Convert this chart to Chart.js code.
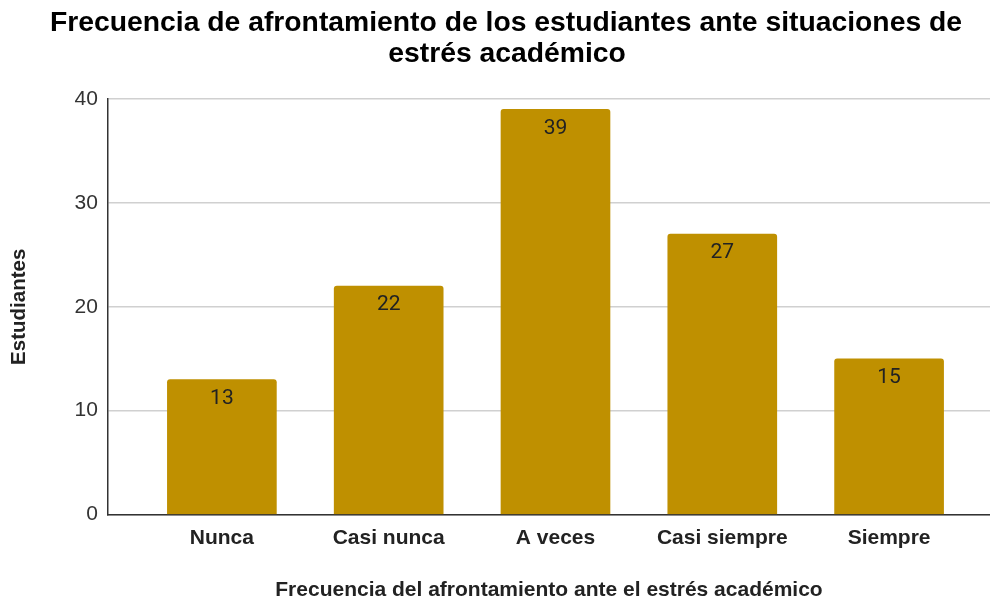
<!DOCTYPE html>
<html lang="es">
<head>
  <meta charset="UTF-8" />
  <title>Frecuencia de afrontamiento</title>
  <script src="https://cdn.jsdelivr.net/npm/chart.js"></script>
  <style>
    html, body { margin: 0; padding: 0; background: #fff; }
    #wrap { width: 990px; height: 598px; }
  </style>
</head>
<body>
  <div id="wrap"><canvas id="grafico" width="990" height="598"></canvas></div>
  <script>
    const categorias = ['Nunca', 'Casi nunca', 'A veces', 'Casi siempre', 'Siempre'];
    const estudiantes = [13, 22, 39, 27, 15];
    const ticksY = [0, 10, 20, 30, 40];
    const titulo = ['Frecuencia de afrontamiento de los estudiantes ante situaciones de', 'estrés académico'];

    const fuente = "'Liberation Sans', Arial, sans-serif";

    // título dibujado a mano (centrado un poco a la derecha, como el original)
    const tituloPlugin = {
      id: 'tituloPlugin',
      beforeDraw(chart) {
        const ctx = chart.ctx;
        ctx.save();
        ctx.font = 'bold 28.3px ' + fuente;
        ctx.fillStyle = '#000';
        ctx.textAlign = 'center';
        ctx.textBaseline = 'middle';
        ctx.fillText(titulo[0], 506, 23);
        ctx.fillText(titulo[1], 507, 54);
        ctx.restore();
      }
    };

    // etiquetas de valor dentro de cada barra
    const etiquetas = {
      id: 'etiquetas',
      afterDatasetsDraw(chart) {
        const ctx = chart.ctx;
        const meta = chart.getDatasetMeta(0);
        ctx.save();
        ctx.font = '21px ' + "Roboto, 'Liberation Sans', sans-serif";
        ctx.fillStyle = '#222';
        ctx.textAlign = 'center';
        ctx.textBaseline = 'middle';
        meta.data.forEach((bar, i) => {
          ctx.fillText(String(estudiantes[i]), bar.x, bar.y + 19);
        });
        ctx.restore();
      }
    };

    new Chart(document.getElementById('grafico'), {
      type: 'bar',
      data: {
        datasets: [{
          data: estudiantes.map((v, i) => ({ x: i, y: v })),
          backgroundColor: '#BF9000',
          barThickness: 109,
          borderRadius: { topLeft: 3, topRight: 3 },
          borderSkipped: 'bottom'
        }]
      },
      options: {
        responsive: false,
        animation: false,
        layout: { padding: { left: 7, right: 0, top: 99, bottom: -5 } },
        plugins: {
          legend: { display: false },
          tooltip: { enabled: false },
          title: { display: false }
        },
        scales: {
          x: {
            type: 'linear',
            offset: false,
            min: -0.683,
            max: 4.605,
            afterBuildTicks(axis) {
              axis.ticks = categorias.map((c, i) => ({ value: i }));
            },
            ticks: {
              autoSkip: false,
              maxRotation: 0,
              padding: 3,
              color: '#222',
              font: { family: fuente, size: 21, weight: 'bold' },
              callback: (v) => categorias[v] ?? ''
            },
            grid: { display: false },
            border: { color: '#333', width: 1.5 },
            title: {
              display: true,
              text: 'Frecuencia del afrontamiento ante el estrés académico',
              font: { family: fuente, size: 21, weight: 'bold' },
              color: '#222',
              padding: { top: 24, bottom: 0 }
            }
          },
          y: {
            min: 0,
            max: 40,
            afterBuildTicks(axis) {
              axis.ticks = ticksY.map(v => ({ value: v }));
            },
            ticks: {
              padding: 10,
              color: '#333',
              font: { family: fuente, size: 21 }
            },
            grid: { color: '#d0d0d0', lineWidth: 1.5, drawTicks: false },
            border: { color: '#333', width: 1.5 },
            title: {
              display: true,
              text: 'Estudiantes',
              font: { family: fuente, size: 20.5, weight: 'bold' },
              color: '#222',
              padding: { top: 0, bottom: 33 }
            }
          }
        }
      },
      plugins: [tituloPlugin, etiquetas]
    });
  </script>
</body>
</html>
